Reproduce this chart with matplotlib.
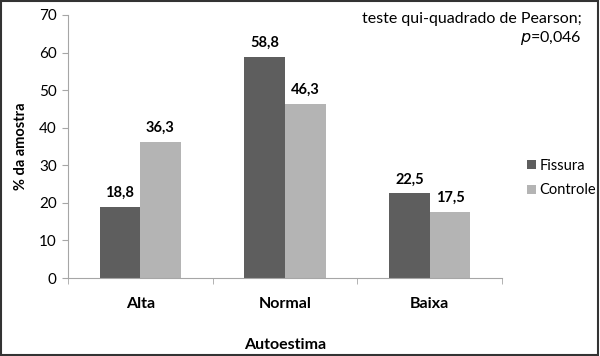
import numpy as np
import matplotlib
matplotlib.use('Agg')
import matplotlib.pyplot as plt
from matplotlib.patches import Rectangle

plt.rcParams['font.family'] = ['Lato', 'DejaVu Sans']

categorias = ['Alta', 'Normal', 'Baixa']
fissura = [18.8, 58.8, 22.5]
controle = [36.3, 46.3, 17.5]
rotulos_fissura = ['18,8', '58,8', '22,5']
rotulos_controle = ['36,3', '46,3', '17,5']

cor_escura = '#5e5e5e'
cor_clara = '#b4b4b4'
cor_eixo = '#a6a6a6'

fig = plt.figure(figsize=(6, 3.56), dpi=100)
ax = fig.add_axes([0.113, 0.219, 0.724, 0.739])

x = np.arange(len(categorias))
w = 0.28
b1 = ax.bar(x - w / 2, fissura, w, color=cor_escura, label='Fissura')
b2 = ax.bar(x + w / 2, controle, w, color=cor_clara, label='Controle')

# rotulos de valor em cima das barras
for rect, txt in zip(b1, rotulos_fissura):
    ax.text(rect.get_x() + rect.get_width() / 2, rect.get_height() + 1.9, txt,
            ha='center', va='bottom', fontsize=10.5, fontweight='bold')
for rect, txt in zip(b2, rotulos_controle):
    ax.text(rect.get_x() + rect.get_width() / 2, rect.get_height() + 1.9, txt,
            ha='center', va='bottom', fontsize=10.5, fontweight='bold')

ax.set_xlim(-0.5, 2.5)
ax.set_ylim(0, 70)
ax.set_yticks(range(0, 71, 10))
ax.set_xticks(x)
ax.set_xticklabels(categorias, fontsize=11.5, fontweight='bold')
ax.set_xticks([-0.5, 0.5, 1.5, 2.5], minor=True)
ax.tick_params(axis='x', which='major', length=0, pad=14)
ax.tick_params(axis='x', which='minor', length=4, color=cor_eixo, direction='out')
ax.tick_params(axis='y', length=4, color=cor_eixo, labelsize=11, pad=4)

for s in ['top', 'right']:
    ax.spines[s].set_visible(False)
for s in ['left', 'bottom']:
    ax.spines[s].set_color(cor_eixo)

ax.set_ylabel('% da amostra', fontsize=10.5, fontweight='bold', labelpad=8)
ax.set_xlabel('Autoestima', fontsize=11.5, fontweight='bold', labelpad=19)

leg = fig.legend(handles=[b1, b2], loc='center left', bbox_to_anchor=(0.857, 0.5),
                 frameon=False, fontsize=10.5, handlelength=0.6, handleheight=0.6,
                 handletextpad=0.25, labelspacing=0.75)

fig.text(0.97, 0.947, 'teste qui-quadrado de Pearson;', ha='right', va='center', fontsize=11.5)
fig.text(0.97, 0.893, r'$p$=0,046', ha='right', va='center', fontsize=11.5)

# moldura em volta da figura
fig.patches.append(Rectangle((0.002, 0.003), 0.995, 0.994, transform=fig.transFigure,
                             fill=False, edgecolor='#333333', linewidth=1.5))

fig.savefig('out.png', dpi=100)
